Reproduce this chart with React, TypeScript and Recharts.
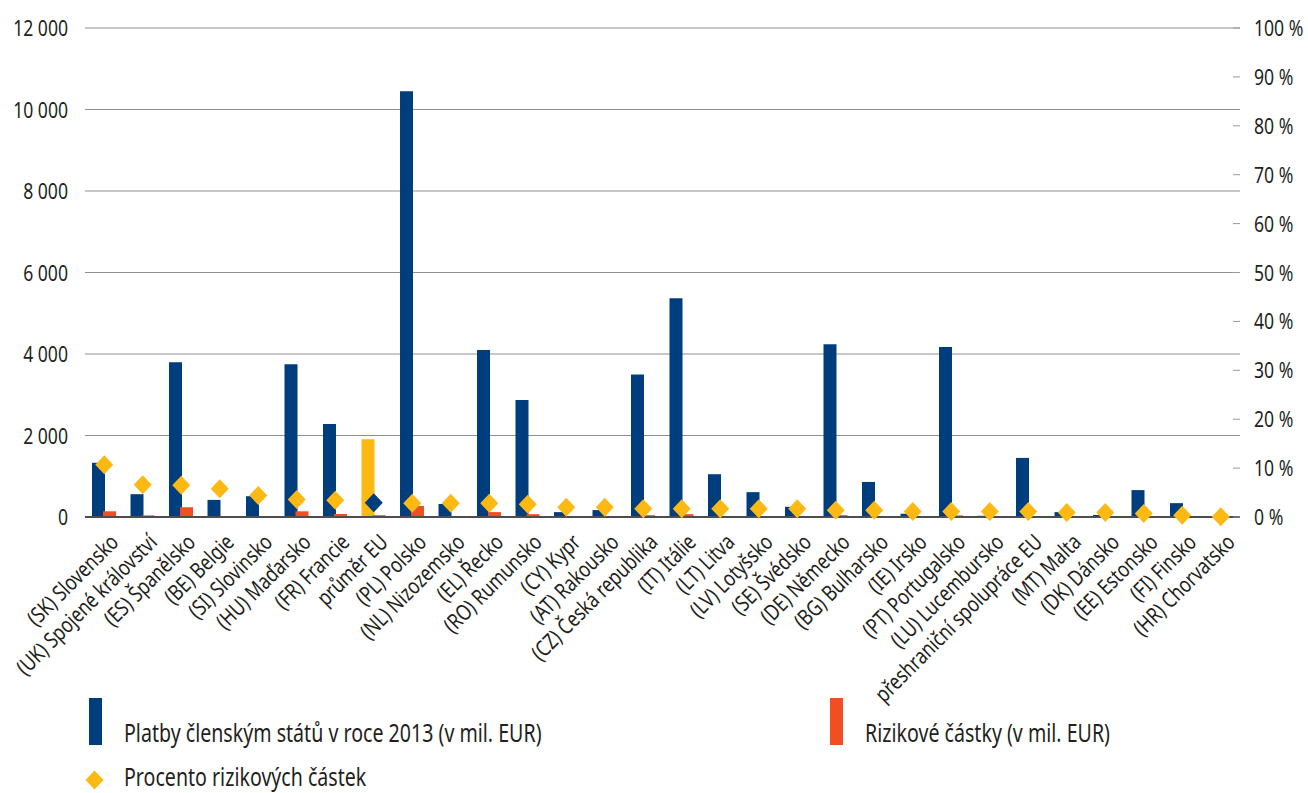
import { ComposedChart, Bar, Line, Cell, XAxis, YAxis, CartesianGrid } from 'recharts';

const categories = [
  '(SK) Slovensko',
  '(UK) Spojené království',
  '(ES) Španělsko',
  '(BE) Belgie',
  '(SI) Slovinsko',
  '(HU) Maďarsko',
  '(FR) Francie',
  'průměr EU',
  '(PL) Polsko',
  '(NL) Nizozemsko',
  '(EL) Řecko',
  '(RO) Rumunsko',
  '(CY) Kypr',
  '(AT) Rakousko',
  '(CZ) Česká republika',
  '(IT) Itálie',
  '(LT) Litva',
  '(LV) Lotyšsko',
  '(SE) Švédsko',
  '(DE) Německo',
  '(BG) Bulharsko',
  '(IE) Irsko',
  '(PT) Portugalsko',
  '(LU) Lucembursko',
  'přeshraniční spolupráce EU',
  '(MT) Malta',
  '(DK) Dánsko',
  '(EE) Estonsko',
  '(FI) Finsko',
  '(HR) Chorvatsko',
];

// platby členským státům v roce 2013 (mil. EUR)
const payments = [
  1330, 560, 3800, 420, 510, 3750, 2280, 1910, 10450, 320, 4100, 2870, 120, 170, 3500,
  5370, 1050, 610, 250, 4240, 860, 80, 4170, 30, 1450, 120, 50, 660, 340, 10,
];

// rizikové částky (mil. EUR)
const riskAmounts = [
  140, 40, 240, 15, 15, 140, 75, 45, 270, 10, 120, 70, 5, 5, 45,
  70, 10, 10, 5, 45, 10, 5, 40, 2, 15, 2, 2, 8, 2, 0,
];

// procento rizikových částek
const riskPercent = [
  10.7, 6.6, 6.5, 5.8, 4.4, 3.6, 3.4, 2.9, 2.8, 2.8, 2.8, 2.6, 2.0, 2.0, 1.7,
  1.7, 1.7, 1.7, 1.7, 1.4, 1.4, 1.1, 1.1, 1.1, 1.1, 0.9, 0.9, 0.7, 0.35, 0.05,
];

const leftTicks = [0, 2000, 4000, 6000, 8000, 10000, 12000];
const rightTicks = [0, 10, 20, 30, 40, 50, 60, 70, 80, 90, 100];

const NAVY = '#003d7c';
const ORANGE = '#f04e23';
const YELLOW = '#fdb913';
const TEXT = '#231f20';
const FONT = "'Noto Sans', sans-serif";
const SQUEEZE = 0.8;
const EU_INDEX = 7;

const data = categories.map((name, i) => ({
  name,
  payments: payments[i],
  risk: riskAmounts[i],
  pct: riskPercent[i],
}));

const formatThousands = (v: number) => String(v).replace(/\B(?=(\d{3})+(?!\d))/g, ' ');

// the source uses a condensed face, so text is squeezed horizontally
const CategoryTick = (props: any) => {
  const { x, y, payload } = props;
  return (
    <g transform={`translate(${x + 5},${y + 16}) rotate(-45) scale(${SQUEEZE},1)`}>
      <text x={0} y={0} dy={15} textAnchor="end" fontSize={22} fill={TEXT} fontFamily={FONT}>
        {payload.value}
      </text>
    </g>
  );
};

const LeftTick = (props: any) => {
  const { x, y, payload } = props;
  return (
    <text
      transform={`translate(${x},${y}) scale(${SQUEEZE},1)`}
      x={0}
      y={0}
      dy={8}
      textAnchor="end"
      fontSize={22}
      fill={TEXT}
      fontFamily={FONT}
    >
      {formatThousands(payload.value)}
    </text>
  );
};

const RightTick = (props: any) => {
  const { x, y, payload } = props;
  return (
    <g>
      <line x1={x - 7} x2={x} y1={y} y2={y} stroke="#9a9a9a" strokeWidth={1} />
      <text
        transform={`translate(${x + 14},${y}) scale(${SQUEEZE},1)`}
        x={0}
        y={0}
        dy={8}
        fontSize={22}
        fill={TEXT}
        fontFamily={FONT}
      >
        {payload.value} %
      </text>
    </g>
  );
};

const renderDiamond = (props: any) => {
  const { cx, cy, index } = props;
  if (cx == null || cy == null) return <g key={index} />;
  const fill = index === EU_INDEX ? NAVY : YELLOW;
  return (
    <polygon
      key={index}
      points={`${cx},${cy - 9.5} ${cx + 9},${cy} ${cx},${cy + 9.5} ${cx - 9},${cy}`}
      fill={fill}
    />
  );
};

function LegendBox() {
  const textStyle: React.CSSProperties = {
    position: 'absolute',
    fontFamily: FONT,
    fontSize: 24.5,
    color: TEXT,
    whiteSpace: 'nowrap',
    lineHeight: '24px',
    transform: `scaleX(${SQUEEZE})`,
    transformOrigin: 'left center',
  };
  return (
    <>
      <div style={{ position: 'absolute', left: 89, top: 698, width: 13, height: 47, background: NAVY }} />
      <div style={{ ...textStyle, left: 124, top: 721 }}>Platby členským států v roce 2013 (v mil. EUR)</div>
      <div style={{ position: 'absolute', left: 830, top: 698, width: 13, height: 47, background: ORANGE }} />
      <div style={{ ...textStyle, left: 865, top: 721 }}>Rizikové částky (v mil. EUR)</div>
      <svg style={{ position: 'absolute', left: 85, top: 770 }} width={20} height={20}>
        <polygon points="9.5,0.5 18.5,10 9.5,19.5 0.5,10" fill={YELLOW} />
      </svg>
      <div style={{ ...textStyle, left: 124, top: 765 }}>Procento rizikových částek</div>
    </>
  );
}

export default function App() {
  return (
    <div style={{ position: 'relative', width: 1308, height: 793, background: '#fff', overflow: 'hidden' }}>
      <style>{`body { margin: 0; }`}</style>
      <ComposedChart
        width={1308}
        height={793}
        data={data}
        margin={{ top: 28, right: 0, left: 0, bottom: 0 }}
        barGap={-2}
      >
        <CartesianGrid yAxisId="left" vertical={false} stroke="#8f8f8f" strokeWidth={1} />
        <XAxis
          dataKey="name"
          interval={0}
          height={276}
          tickLine={false}
          axisLine={{ stroke: '#4d4d4d', strokeWidth: 2 }}
          tickSize={0}
          tickMargin={0}
          tick={<CategoryTick />}
        />
        <YAxis
          yAxisId="left"
          orientation="left"
          width={85}
          domain={[0, 12000]}
          ticks={leftTicks}
          axisLine={false}
          tickLine={false}
          tickSize={0}
          tickMargin={17}
          tick={<LeftTick />}
        />
        <YAxis
          yAxisId="right"
          orientation="right"
          width={68}
          domain={[0, 100]}
          ticks={rightTicks}
          axisLine={false}
          tickLine={false}
          tickSize={0}
          tickMargin={0}
          tick={<RightTick />}
        />
        <Bar yAxisId="left" dataKey="payments" fill={NAVY} barSize={13} isAnimationActive={false}>
          {data.map((d, i) => (
            <Cell key={d.name} fill={i === EU_INDEX ? YELLOW : NAVY} />
          ))}
        </Bar>
        <Bar yAxisId="left" dataKey="risk" fill={ORANGE} barSize={13} isAnimationActive={false} />
        <Line
          yAxisId="right"
          dataKey="pct"
          stroke="none"
          dot={renderDiamond}
          activeDot={false}
          legendType="none"
          isAnimationActive={false}
        />
      </ComposedChart>
      <LegendBox />
    </div>
  );
}
